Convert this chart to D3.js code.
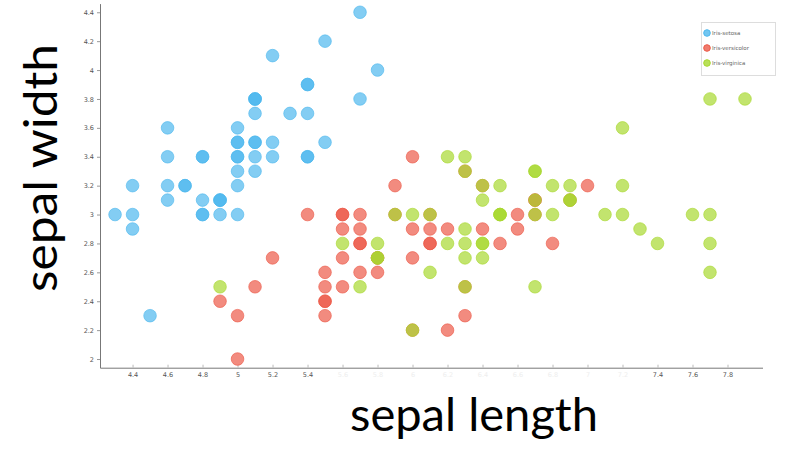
<!DOCTYPE html>
<html><head><meta charset="utf-8">
<script src="https://cdn.jsdelivr.net/npm/d3@7"></script>
<style>body{margin:0;background:#fff}svg{display:block}</style>
</head><body><svg id="c" width="785" height="450"></svg>
<script>
const species = ["Iris-setosa","Iris-versicolor","Iris-virginica"];
const colors = ["#4fb8ee","#ec5a48","#a8d830"];
const setosa = [[5.1,3.5],[4.9,3.0],[4.7,3.2],[4.6,3.1],[5.0,3.6],[5.4,3.9],[4.6,3.4],[5.0,3.4],[4.4,2.9],[4.9,3.1],[5.4,3.7],[4.8,3.4],[4.8,3.0],[4.3,3.0],[5.8,4.0],[5.7,4.4],[5.4,3.9],[5.1,3.5],[5.7,3.8],[5.1,3.8],[5.4,3.4],[5.1,3.7],[4.6,3.6],[5.1,3.3],[4.8,3.4],[5.0,3.0],[5.0,3.4],[5.2,3.5],[5.2,3.4],[4.7,3.2],[4.8,3.1],[5.4,3.4],[5.2,4.1],[5.5,4.2],[4.9,3.1],[5.0,3.2],[5.5,3.5],[4.9,3.1],[4.4,3.0],[5.1,3.4],[5.0,3.5],[4.5,2.3],[4.4,3.2],[5.0,3.5],[5.1,3.8],[4.8,3.0],[5.1,3.8],[4.6,3.2],[5.3,3.7],[5.0,3.3]];
const versicolor = [[7.0,3.2],[6.4,3.2],[6.9,3.1],[5.5,2.3],[6.5,2.8],[5.7,2.8],[6.3,3.3],[4.9,2.4],[6.6,2.9],[5.2,2.7],[5.0,2.0],[5.9,3.0],[6.0,2.2],[6.1,2.9],[5.6,2.9],[6.7,3.1],[5.6,3.0],[5.8,2.7],[6.2,2.2],[5.6,2.5],[5.9,3.2],[6.1,2.8],[6.3,2.5],[6.1,2.8],[6.4,2.9],[6.6,3.0],[6.8,2.8],[6.7,3.0],[6.0,2.9],[5.7,2.6],[5.5,2.4],[5.5,2.4],[5.8,2.7],[6.0,2.7],[5.4,3.0],[6.0,3.4],[6.7,3.1],[6.3,2.3],[5.6,3.0],[5.5,2.5],[5.5,2.6],[6.1,3.0],[5.8,2.6],[5.0,2.3],[5.6,2.7],[5.7,3.0],[5.7,2.9],[6.2,2.9],[5.1,2.5],[5.7,2.8]];
const virginica = [[6.3,3.3],[5.8,2.7],[7.1,3.0],[6.3,2.9],[6.5,3.0],[7.6,3.0],[4.9,2.5],[7.3,2.9],[6.7,2.5],[7.2,3.6],[6.5,3.2],[6.4,2.7],[6.8,3.0],[5.7,2.5],[5.8,2.8],[6.4,3.2],[6.5,3.0],[7.7,3.8],[7.7,2.6],[6.0,2.2],[6.9,3.2],[5.6,2.8],[7.7,2.8],[6.3,2.7],[6.7,3.3],[7.2,3.2],[6.2,2.8],[6.1,3.0],[6.4,2.8],[7.2,3.0],[7.4,2.8],[7.9,3.8],[6.4,2.8],[6.3,2.8],[6.1,2.6],[7.7,3.0],[6.3,3.4],[6.4,3.1],[6.0,3.0],[6.9,3.1],[6.7,3.1],[6.9,3.1],[5.8,2.7],[6.8,3.2],[6.7,3.3],[6.7,3.0],[6.3,2.5],[6.5,3.0],[6.2,3.4],[5.9,3.0]];
const xTicks = [4.4,4.6,4.8,5.0,5.2,5.4,5.6,5.8,6.0,6.2,6.4,6.6,6.8,7.0,7.2,7.4,7.6,7.8];
const xFaded = [5.6,5.8,6.0,6.2,6.4,6.6,6.8,7.0,7.2];
const yTicks = [2.0,2.2,2.4,2.6,2.8,3.0,3.2,3.4,3.6,3.8,4.0,4.2,4.4];
const xTitle = "sepal length", yTitle = "sepal width";

const svg = d3.select("#c");
const x = d3.scaleLinear().domain([4.214, 8.0]).range([100, 762.5]);
const y = d3.scaleLinear().domain([1.94, 4.46]).range([367.7, 3.6]);

const fmt = d => String(+d.toFixed(1));
const gx = svg.append("g").attr("transform","translate(0,367.7)")
  .call(d3.axisBottom(x).tickValues(xTicks).tickFormat(fmt).tickSizeInner(-3).tickSizeOuter(0).tickPadding(5));
gx.select(".domain").attr("stroke","#777");
gx.selectAll(".tick line").attr("stroke","#bbb");
gx.selectAll(".tick text").attr("fill", d => xFaded.some(v=>Math.abs(v-d)<1e-6) ? "#eeeeee" : "#555")
  .style("font-family","'DejaVu Sans', sans-serif").style("font-size","6.5px");

const gy = svg.append("g").attr("transform","translate(100,0)")
  .call(d3.axisLeft(y).tickValues(yTicks).tickFormat(fmt).tickSizeInner(3).tickSizeOuter(0).tickPadding(3));
gy.select(".domain").attr("stroke","#777");
gy.selectAll(".tick line").attr("stroke","#999");
gy.selectAll(".tick text").attr("fill","#555")
  .style("font-family","'DejaVu Sans', sans-serif").style("font-size","6.5px");

const sets = [setosa, versicolor, virginica];
sets.forEach((pts, i) => {
  svg.append("g").selectAll("circle").data(pts).join("circle")
    .attr("cx", d => x(d[0])).attr("cy", d => y(d[1])).attr("r", 6.3)
    .attr("fill", colors[i]).attr("fill-opacity", 0.7)
    .attr("stroke", colors[i]).attr("stroke-opacity", 0.8).attr("stroke-width", 0.8);
});

// legend
const lg = svg.append("g");
lg.append("rect").attr("x",701.5).attr("y",22.5).attr("width",74).attr("height",53)
  .attr("fill","#fff").attr("stroke","#ddd");
species.forEach((s,i) => {
  const yy = 33 + i*15;
  lg.append("circle").attr("cx",707).attr("cy",yy).attr("r",3.3)
    .attr("fill",colors[i]).attr("fill-opacity",0.8).attr("stroke",colors[i]);
  lg.append("text").attr("x",712).attr("y",yy+2).text(s)
    .attr("fill","#666").style("font-family","'DejaVu Sans', sans-serif").style("font-size","5.5px");
});

// titles
svg.append("text").attr("x",350).attr("y",431).text(xTitle)
  .attr("textLength",248).attr("lengthAdjust","spacingAndGlyphs")
  .style("font-family","Lato, sans-serif").style("font-size","46px").attr("fill","#000");
svg.append("text").attr("transform","translate(57,292) rotate(-90)").text(yTitle)
  .attr("textLength",248).attr("lengthAdjust","spacingAndGlyphs")
  .style("font-family","Lato, sans-serif").style("font-size","46px").attr("fill","#000");
</script></body></html>
